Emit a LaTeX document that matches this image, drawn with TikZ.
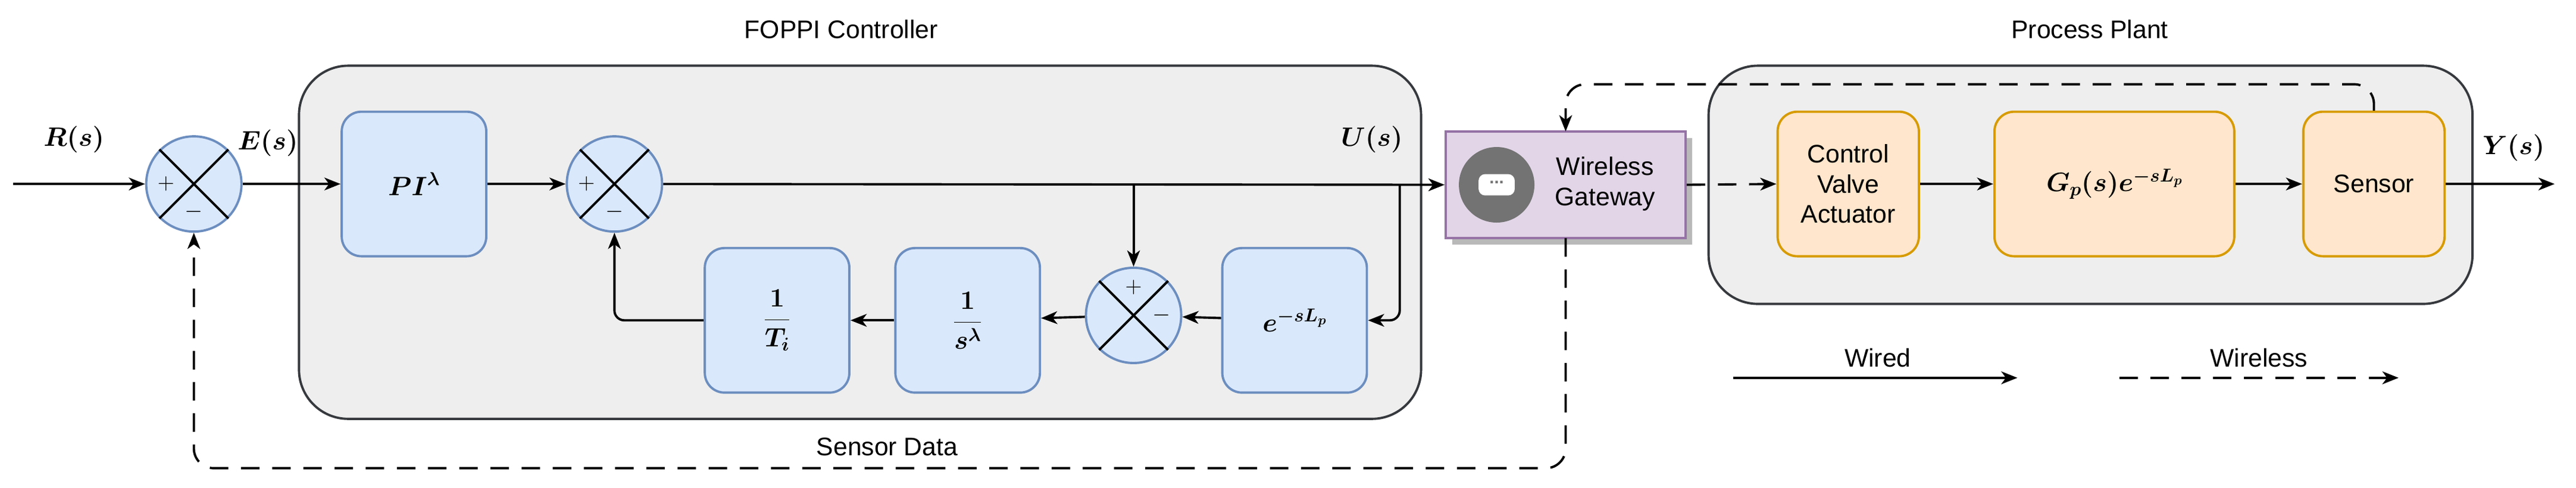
\RequirePackage{fix-cm}
\documentclass[tikz,border=0pt]{standalone}
\usepackage{amsmath}
\usepackage{fontspec}
\setmainfont{Liberation Sans}
\usetikzlibrary{arrows.meta}
\definecolor{bfill}{HTML}{DAE8FC}\definecolor{bline}{HTML}{6C8EBF}
\definecolor{ofill}{HTML}{FFE6CC}\definecolor{oline}{HTML}{D79B00}
\definecolor{pfill}{HTML}{E1D5E7}\definecolor{pline}{HTML}{9673A6}
\definecolor{cfill}{HTML}{EEEEEE}\definecolor{cline}{HTML}{36393D}
\definecolor{icon}{HTML}{737373}
\begin{document}
\begin{tikzpicture}[x=0.1cm,y=-0.1cm,
  font=\fontsize{44}{52}\selectfont,
  cont/.style={draw=cline,fill=cfill,line width=4pt,rounded corners=3cm},
  blk/.style={draw=bline,fill=bfill,line width=4pt,rounded corners=1.2cm,minimum width=8.8cm,minimum height=8.8cm,inner sep=0pt},
  oblk/.style={draw=oline,fill=ofill,line width=4pt,rounded corners=1.2cm,minimum height=8.8cm,inner sep=0pt,align=center},
  sum/.style={circle,draw=bline,fill=bfill,line width=4pt,minimum size=5.8cm,inner sep=0pt},
  w/.style={line width=4pt,-{Stealth[length=28pt,width=22pt,inset=8pt]}},
  wl/.style={w,dash pattern=on 32pt off 22pt},
  m/.style={font=\fontsize{46}{54}\selectfont\boldmath}]
\useasboundingbox (0,0) rectangle (1568,297);
% containers
\draw[cont] (182,40) rectangle (865,255);
\draw[cont] (1040,40) rectangle (1505,185);
\node (t1) at (512,18) {FOPPI Controller};
\node (t2) at (1272,18) {Process Plant};
% blocks
\node[sum] (s1) at (118,112) {};
\node[sum] (s2) at (374,112) {};
\node[sum] (s3) at (690,192) {};
\foreach \s in {s1,s2,s3}{
 \draw[line width=4pt] (\s.north west)--(\s.south east) (\s.north east)--(\s.south west);}
\node[font=\fontsize{40}{40}\selectfont] at ([xshift=-1.7cm]s1.center) {$+$};
\node[font=\fontsize{40}{40}\selectfont] at ([yshift=-1.7cm]s1.center) {$-$};
\node[font=\fontsize{40}{40}\selectfont] at ([xshift=-1.7cm]s2.center) {$+$};
\node[font=\fontsize{40}{40}\selectfont] at ([yshift=-1.7cm]s2.center) {$-$};
\node[font=\fontsize{40}{40}\selectfont] at ([yshift=1.7cm]s3.center) {$+$};
\node[font=\fontsize{40}{40}\selectfont] at ([xshift=1.7cm]s3.center) {$-$};
\node[blk,m] (pi) at (252,112) {$PI^{\lambda}$};
\node[blk,m] (ti) at (473,195) {$\dfrac{1}{T_i}$};
\node[blk,m] (sl) at (589,195) {$\dfrac{1}{s^{\lambda}}$};
\node[blk,m] (el) at (788,195) {$e^{-sL_p}$};
% gateway
\fill[gray!55] (884,84) rectangle (1030,149);
\node[draw=pline,fill=pfill,line width=4pt,minimum width=14.6cm,minimum height=6.5cm,inner sep=0pt] (gw) at (953,112.5) {};
\fill[icon] (911,112.5) circle (2.3cm);
\fill[white,rounded corners=0.4cm] (900,106) rectangle (922,119);
\node[font=\fontsize{30}{30}\selectfont\bfseries,icon] at (911,111) {...};
\node[align=center] (gwt) at (977,112) {Wireless\\Gateway};
\node[oblk,minimum width=8.6cm] (cv) at (1125,112) {Control\\Valve\\Actuator};
\node[oblk,minimum width=14.6cm,m] (gp) at (1287,112) {$G_p(s)e^{-sL_p}$};
\node[oblk,minimum width=8.6cm] (se) at (1445,112) {Sensor};
% labels
\node[m] (lr) at (45,85) {$R(s)$};
\node[m] (le) at (163,87) {$E(s)$};
\node[m] (lu) at (835,85) {$U(s)$};
\node[m] (ly) at (1530,90) {$Y(s)$};
\node (lsd) at (540,272) {Sensor Data};
% coordinates
\coordinate (in) at (8,112);
\coordinate (out) at (1555,112);
\coordinate (b1) at (690,112);
\coordinate (b2) at (852,112);
\coordinate (gtop) at (953,80);
\coordinate (gbot) at (953,145);
% wired
\draw[w] (in) -- (s1);
\draw[w] (s1) -- (pi);
\draw[w] (pi) -- (s2);
\draw[w] (s2) -- (gw.west);
\draw[w] (b1) -- (s3);
\draw[w,rounded corners=0.6cm] (b2) |- (el.east);
\draw[w] (el) -- (s3);
\draw[w] (s3) -- (sl);
\draw[w] (sl) -- (ti);
\draw[w,rounded corners=0.6cm] (ti.west) -| (s2.south);
\draw[w] (cv) -- (gp);
\draw[w] (gp) -- (se);
\draw[w] (se) -- (out);
% wireless
\draw[wl] (gw.east) -- (cv.west);
\draw[wl,rounded corners=1.2cm] (se.north) -- ++(0,-16) -| (gtop);
\draw[wl,rounded corners=1.2cm] (gbot) -- (953,285) -| (s1.south);
% legend
\coordinate (la1) at (1055,230); \coordinate (la2) at (1228,230);
\coordinate (lb1) at (1290,230); \coordinate (lb2) at (1460,230);
\draw[w] (la1) -- (la2);
\draw[wl] (lb1) -- (lb2);
\node (lw) at (1143,218) {Wired};
\node (lwl) at (1375,218) {Wireless};
\end{tikzpicture}
\end{document}
